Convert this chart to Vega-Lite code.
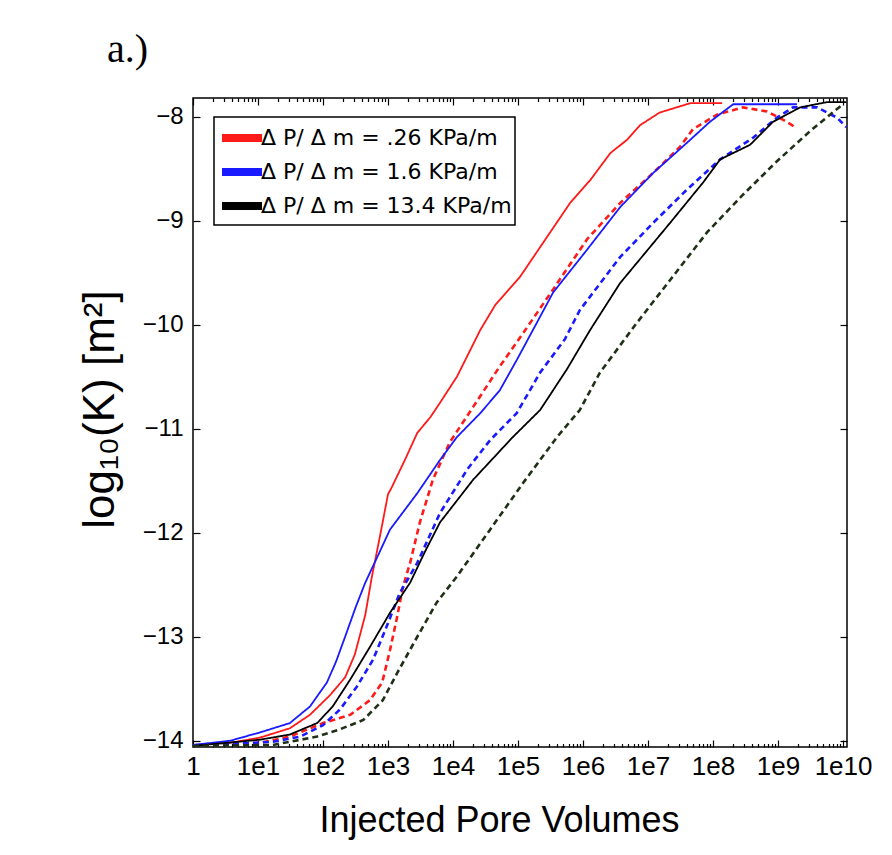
{
  "$schema": "https://vega.github.io/schema/vega-lite/v6.json",
  "width": 654,
  "height": 649,
  "autosize": {"type": "none"},
  "padding": {"left": 193, "top": 98, "right": 45, "bottom": 108},
  "background": "white",
  "title": {"text": "a.)", "anchor": "start", "frame": "group", "font": "Liberation Serif", "fontSize": 40, "fontWeight": "normal", "dx": -86, "dy": 35, "offset": 30, "baseline": "alphabetic", "color": "black"},
  "config": {
    "view": {"stroke": "black", "strokeWidth": 1.5},
    "axis": {"grid": false, "domain": false, "tickColor": "black", "tickWidth": 1.2, "labelColor": "black", "titleColor": "black", "titleFontWeight": "normal"},
    "legend": {"strokeWidth": 1.5}
  },
  "data": {"values": [
    {"g": "Δ P/ Δ m = .26 KPa/m", "t": "solid", "x": 1, "y": -14.04},
    {"g": "Δ P/ Δ m = .26 KPa/m", "t": "solid", "x": 3.72, "y": -14.02},
    {"g": "Δ P/ Δ m = .26 KPa/m", "t": "solid", "x": 10.7, "y": -13.97},
    {"g": "Δ P/ Δ m = .26 KPa/m", "t": "solid", "x": 30.9, "y": -13.88},
    {"g": "Δ P/ Δ m = .26 KPa/m", "t": "solid", "x": 63.1, "y": -13.75},
    {"g": "Δ P/ Δ m = .26 KPa/m", "t": "solid", "x": 129, "y": -13.56},
    {"g": "Δ P/ Δ m = .26 KPa/m", "t": "solid", "x": 219, "y": -13.39},
    {"g": "Δ P/ Δ m = .26 KPa/m", "t": "solid", "x": 309, "y": -13.17},
    {"g": "Δ P/ Δ m = .26 KPa/m", "t": "solid", "x": 447, "y": -12.79},
    {"g": "Δ P/ Δ m = .26 KPa/m", "t": "solid", "x": 562, "y": -12.43},
    {"g": "Δ P/ Δ m = .26 KPa/m", "t": "solid", "x": 759, "y": -12.02},
    {"g": "Δ P/ Δ m = .26 KPa/m", "t": "solid", "x": 1000, "y": -11.63},
    {"g": "Δ P/ Δ m = .26 KPa/m", "t": "solid", "x": 1148, "y": -11.56},
    {"g": "Δ P/ Δ m = .26 KPa/m", "t": "solid", "x": 1820, "y": -11.30},
    {"g": "Δ P/ Δ m = .26 KPa/m", "t": "solid", "x": 2818, "y": -11.04},
    {"g": "Δ P/ Δ m = .26 KPa/m", "t": "solid", "x": 4467, "y": -10.89},
    {"g": "Δ P/ Δ m = .26 KPa/m", "t": "solid", "x": 6310, "y": -10.75},
    {"g": "Δ P/ Δ m = .26 KPa/m", "t": "solid", "x": 11480, "y": -10.50},
    {"g": "Δ P/ Δ m = .26 KPa/m", "t": "solid", "x": 26300, "y": -10.05},
    {"g": "Δ P/ Δ m = .26 KPa/m", "t": "solid", "x": 44670, "y": -9.81},
    {"g": "Δ P/ Δ m = .26 KPa/m", "t": "solid", "x": 107200, "y": -9.54},
    {"g": "Δ P/ Δ m = .26 KPa/m", "t": "solid", "x": 263000, "y": -9.18},
    {"g": "Δ P/ Δ m = .26 KPa/m", "t": "solid", "x": 631000, "y": -8.83},
    {"g": "Δ P/ Δ m = .26 KPa/m", "t": "solid", "x": 1290000, "y": -8.61},
    {"g": "Δ P/ Δ m = .26 KPa/m", "t": "solid", "x": 2630000, "y": -8.35},
    {"g": "Δ P/ Δ m = .26 KPa/m", "t": "solid", "x": 4790000, "y": -8.22},
    {"g": "Δ P/ Δ m = .26 KPa/m", "t": "solid", "x": 7590000, "y": -8.08},
    {"g": "Δ P/ Δ m = .26 KPa/m", "t": "solid", "x": 15100000, "y": -7.96},
    {"g": "Δ P/ Δ m = .26 KPa/m", "t": "solid", "x": 44700000, "y": -7.87},
    {"g": "Δ P/ Δ m = .26 KPa/m", "t": "solid", "x": 138000000, "y": -7.87},

    {"g": "Δ P/ Δ m = .26 KPa/m", "t": "dashed", "x": 1, "y": -14.05},
    {"g": "Δ P/ Δ m = .26 KPa/m", "t": "dashed", "x": 10.7, "y": -14.02},
    {"g": "Δ P/ Δ m = .26 KPa/m", "t": "dashed", "x": 30.9, "y": -13.96},
    {"g": "Δ P/ Δ m = .26 KPa/m", "t": "dashed", "x": 100, "y": -13.83},
    {"g": "Δ P/ Δ m = .26 KPa/m", "t": "dashed", "x": 263, "y": -13.75},
    {"g": "Δ P/ Δ m = .26 KPa/m", "t": "dashed", "x": 525, "y": -13.61},
    {"g": "Δ P/ Δ m = .26 KPa/m", "t": "dashed", "x": 813, "y": -13.44},
    {"g": "Δ P/ Δ m = .26 KPa/m", "t": "dashed", "x": 1072, "y": -13.13},
    {"g": "Δ P/ Δ m = .26 KPa/m", "t": "dashed", "x": 1380, "y": -12.81},
    {"g": "Δ P/ Δ m = .26 KPa/m", "t": "dashed", "x": 1698, "y": -12.52},
    {"g": "Δ P/ Δ m = .26 KPa/m", "t": "dashed", "x": 2188, "y": -12.29},
    {"g": "Δ P/ Δ m = .26 KPa/m", "t": "dashed", "x": 3090, "y": -11.90},
    {"g": "Δ P/ Δ m = .26 KPa/m", "t": "dashed", "x": 4898, "y": -11.49},
    {"g": "Δ P/ Δ m = .26 KPa/m", "t": "dashed", "x": 8913, "y": -11.13},
    {"g": "Δ P/ Δ m = .26 KPa/m", "t": "dashed", "x": 20420, "y": -10.79},
    {"g": "Δ P/ Δ m = .26 KPa/m", "t": "dashed", "x": 52480, "y": -10.40},
    {"g": "Δ P/ Δ m = .26 KPa/m", "t": "dashed", "x": 120200, "y": -10.08},
    {"g": "Δ P/ Δ m = .26 KPa/m", "t": "dashed", "x": 346700, "y": -9.66},
    {"g": "Δ P/ Δ m = .26 KPa/m", "t": "dashed", "x": 1148000, "y": -9.18},
    {"g": "Δ P/ Δ m = .26 KPa/m", "t": "dashed", "x": 3715000, "y": -8.83},
    {"g": "Δ P/ Δ m = .26 KPa/m", "t": "dashed", "x": 12020000, "y": -8.54},
    {"g": "Δ P/ Δ m = .26 KPa/m", "t": "dashed", "x": 30900000, "y": -8.29},
    {"g": "Δ P/ Δ m = .26 KPa/m", "t": "dashed", "x": 49000000, "y": -8.12},
    {"g": "Δ P/ Δ m = .26 KPa/m", "t": "dashed", "x": 114800000, "y": -7.98},
    {"g": "Δ P/ Δ m = .26 KPa/m", "t": "dashed", "x": 288400000, "y": -7.91},
    {"g": "Δ P/ Δ m = .26 KPa/m", "t": "dashed", "x": 676000000, "y": -7.95},
    {"g": "Δ P/ Δ m = .26 KPa/m", "t": "dashed", "x": 1202000000, "y": -8.03},
    {"g": "Δ P/ Δ m = .26 KPa/m", "t": "dashed", "x": 1950000000, "y": -8.11},

    {"g": "Δ P/ Δ m = 1.6 KPa/m", "t": "solid", "x": 1, "y": -14.04},
    {"g": "Δ P/ Δ m = 1.6 KPa/m", "t": "solid", "x": 3.72, "y": -14.0},
    {"g": "Δ P/ Δ m = 1.6 KPa/m", "t": "solid", "x": 10.7, "y": -13.92},
    {"g": "Δ P/ Δ m = 1.6 KPa/m", "t": "solid", "x": 30.9, "y": -13.83},
    {"g": "Δ P/ Δ m = 1.6 KPa/m", "t": "solid", "x": 63.1, "y": -13.67},
    {"g": "Δ P/ Δ m = 1.6 KPa/m", "t": "solid", "x": 114.8, "y": -13.44},
    {"g": "Δ P/ Δ m = 1.6 KPa/m", "t": "solid", "x": 158.5, "y": -13.24},
    {"g": "Δ P/ Δ m = 1.6 KPa/m", "t": "solid", "x": 218.8, "y": -13.0},
    {"g": "Δ P/ Δ m = 1.6 KPa/m", "t": "solid", "x": 316.2, "y": -12.72},
    {"g": "Δ P/ Δ m = 1.6 KPa/m", "t": "solid", "x": 446.7, "y": -12.48},
    {"g": "Δ P/ Δ m = 1.6 KPa/m", "t": "solid", "x": 676, "y": -12.24},
    {"g": "Δ P/ Δ m = 1.6 KPa/m", "t": "solid", "x": 1072, "y": -11.97},
    {"g": "Δ P/ Δ m = 1.6 KPa/m", "t": "solid", "x": 2818, "y": -11.62},
    {"g": "Δ P/ Δ m = 1.6 KPa/m", "t": "solid", "x": 6310, "y": -11.30},
    {"g": "Δ P/ Δ m = 1.6 KPa/m", "t": "solid", "x": 11480, "y": -11.08},
    {"g": "Δ P/ Δ m = 1.6 KPa/m", "t": "solid", "x": 26300, "y": -10.85},
    {"g": "Δ P/ Δ m = 1.6 KPa/m", "t": "solid", "x": 52480, "y": -10.63},
    {"g": "Δ P/ Δ m = 1.6 KPa/m", "t": "solid", "x": 95500, "y": -10.34},
    {"g": "Δ P/ Δ m = 1.6 KPa/m", "t": "solid", "x": 169800, "y": -10.05},
    {"g": "Δ P/ Δ m = 1.6 KPa/m", "t": "solid", "x": 346700, "y": -9.69},
    {"g": "Δ P/ Δ m = 1.6 KPa/m", "t": "solid", "x": 1148000, "y": -9.28},
    {"g": "Δ P/ Δ m = 1.6 KPa/m", "t": "solid", "x": 3715000, "y": -8.87},
    {"g": "Δ P/ Δ m = 1.6 KPa/m", "t": "solid", "x": 12020000, "y": -8.54},
    {"g": "Δ P/ Δ m = 1.6 KPa/m", "t": "solid", "x": 39800000, "y": -8.25},
    {"g": "Δ P/ Δ m = 1.6 KPa/m", "t": "solid", "x": 89100000, "y": -8.05},
    {"g": "Δ P/ Δ m = 1.6 KPa/m", "t": "solid", "x": 204000000, "y": -7.88},
    {"g": "Δ P/ Δ m = 1.6 KPa/m", "t": "solid", "x": 1950000000, "y": -7.88},

    {"g": "Δ P/ Δ m = 1.6 KPa/m", "t": "dashed", "x": 1, "y": -14.05},
    {"g": "Δ P/ Δ m = 1.6 KPa/m", "t": "dashed", "x": 17, "y": -14.01},
    {"g": "Δ P/ Δ m = 1.6 KPa/m", "t": "dashed", "x": 44.7, "y": -13.96},
    {"g": "Δ P/ Δ m = 1.6 KPa/m", "t": "dashed", "x": 100, "y": -13.85},
    {"g": "Δ P/ Δ m = 1.6 KPa/m", "t": "dashed", "x": 182, "y": -13.70},
    {"g": "Δ P/ Δ m = 1.6 KPa/m", "t": "dashed", "x": 331, "y": -13.48},
    {"g": "Δ P/ Δ m = 1.6 KPa/m", "t": "dashed", "x": 589, "y": -13.22},
    {"g": "Δ P/ Δ m = 1.6 KPa/m", "t": "dashed", "x": 955, "y": -12.90},
    {"g": "Δ P/ Δ m = 1.6 KPa/m", "t": "dashed", "x": 1514, "y": -12.58},
    {"g": "Δ P/ Δ m = 1.6 KPa/m", "t": "dashed", "x": 2818, "y": -12.29},
    {"g": "Δ P/ Δ m = 1.6 KPa/m", "t": "dashed", "x": 6310, "y": -11.81},
    {"g": "Δ P/ Δ m = 1.6 KPa/m", "t": "dashed", "x": 16600, "y": -11.39},
    {"g": "Δ P/ Δ m = 1.6 KPa/m", "t": "dashed", "x": 37150, "y": -11.11},
    {"g": "Δ P/ Δ m = 1.6 KPa/m", "t": "dashed", "x": 95500, "y": -10.85},
    {"g": "Δ P/ Δ m = 1.6 KPa/m", "t": "dashed", "x": 218800, "y": -10.46},
    {"g": "Δ P/ Δ m = 1.6 KPa/m", "t": "dashed", "x": 524800, "y": -10.14},
    {"g": "Δ P/ Δ m = 1.6 KPa/m", "t": "dashed", "x": 891000, "y": -9.86},
    {"g": "Δ P/ Δ m = 1.6 KPa/m", "t": "dashed", "x": 3715000, "y": -9.35},
    {"g": "Δ P/ Δ m = 1.6 KPa/m", "t": "dashed", "x": 12020000, "y": -9.02},
    {"g": "Δ P/ Δ m = 1.6 KPa/m", "t": "dashed", "x": 39800000, "y": -8.70},
    {"g": "Δ P/ Δ m = 1.6 KPa/m", "t": "dashed", "x": 128800000, "y": -8.41},
    {"g": "Δ P/ Δ m = 1.6 KPa/m", "t": "dashed", "x": 417000000, "y": -8.20},
    {"g": "Δ P/ Δ m = 1.6 KPa/m", "t": "dashed", "x": 955000000, "y": -8.01},
    {"g": "Δ P/ Δ m = 1.6 KPa/m", "t": "dashed", "x": 1700000000, "y": -7.91},
    {"g": "Δ P/ Δ m = 1.6 KPa/m", "t": "dashed", "x": 3980000000, "y": -7.91},
    {"g": "Δ P/ Δ m = 1.6 KPa/m", "t": "dashed", "x": 8130000000, "y": -8.01},
    {"g": "Δ P/ Δ m = 1.6 KPa/m", "t": "dashed", "x": 11200000000, "y": -8.10},

    {"g": "Δ P/ Δ m = 13.4 KPa/m", "t": "solid", "x": 1, "y": -14.05},
    {"g": "Δ P/ Δ m = 13.4 KPa/m", "t": "solid", "x": 10.7, "y": -13.99},
    {"g": "Δ P/ Δ m = 13.4 KPa/m", "t": "solid", "x": 30.9, "y": -13.94},
    {"g": "Δ P/ Δ m = 13.4 KPa/m", "t": "solid", "x": 81.3, "y": -13.83},
    {"g": "Δ P/ Δ m = 13.4 KPa/m", "t": "solid", "x": 141, "y": -13.67},
    {"g": "Δ P/ Δ m = 13.4 KPa/m", "t": "solid", "x": 263, "y": -13.41},
    {"g": "Δ P/ Δ m = 13.4 KPa/m", "t": "solid", "x": 525, "y": -13.10},
    {"g": "Δ P/ Δ m = 13.4 KPa/m", "t": "solid", "x": 1072, "y": -12.77},
    {"g": "Δ P/ Δ m = 13.4 KPa/m", "t": "solid", "x": 2188, "y": -12.48},
    {"g": "Δ P/ Δ m = 13.4 KPa/m", "t": "solid", "x": 3715, "y": -12.18},
    {"g": "Δ P/ Δ m = 13.4 KPa/m", "t": "solid", "x": 6310, "y": -11.90},
    {"g": "Δ P/ Δ m = 13.4 KPa/m", "t": "solid", "x": 20420, "y": -11.49},
    {"g": "Δ P/ Δ m = 13.4 KPa/m", "t": "solid", "x": 83180, "y": -11.08},
    {"g": "Δ P/ Δ m = 13.4 KPa/m", "t": "solid", "x": 218800, "y": -10.82},
    {"g": "Δ P/ Δ m = 13.4 KPa/m", "t": "solid", "x": 562300, "y": -10.43},
    {"g": "Δ P/ Δ m = 13.4 KPa/m", "t": "solid", "x": 1288000, "y": -10.05},
    {"g": "Δ P/ Δ m = 13.4 KPa/m", "t": "solid", "x": 3715000, "y": -9.60},
    {"g": "Δ P/ Δ m = 13.4 KPa/m", "t": "solid", "x": 21880000, "y": -9.02},
    {"g": "Δ P/ Δ m = 13.4 KPa/m", "t": "solid", "x": 70800000, "y": -8.63},
    {"g": "Δ P/ Δ m = 13.4 KPa/m", "t": "solid", "x": 128800000, "y": -8.41},
    {"g": "Δ P/ Δ m = 13.4 KPa/m", "t": "solid", "x": 371500000, "y": -8.27},
    {"g": "Δ P/ Δ m = 13.4 KPa/m", "t": "solid", "x": 832000000, "y": -8.05},
    {"g": "Δ P/ Δ m = 13.4 KPa/m", "t": "solid", "x": 2188000000, "y": -7.91},
    {"g": "Δ P/ Δ m = 13.4 KPa/m", "t": "solid", "x": 5620000000, "y": -7.86},
    {"g": "Δ P/ Δ m = 13.4 KPa/m", "t": "solid", "x": 11200000000, "y": -7.86},

    {"g": "Δ P/ Δ m = 13.4 KPa/m", "t": "dashed", "x": 1, "y": -14.05},
    {"g": "Δ P/ Δ m = 13.4 KPa/m", "t": "dashed", "x": 17, "y": -14.04},
    {"g": "Δ P/ Δ m = 13.4 KPa/m", "t": "dashed", "x": 81.3, "y": -13.96},
    {"g": "Δ P/ Δ m = 13.4 KPa/m", "t": "dashed", "x": 182, "y": -13.89},
    {"g": "Δ P/ Δ m = 13.4 KPa/m", "t": "dashed", "x": 417, "y": -13.80},
    {"g": "Δ P/ Δ m = 13.4 KPa/m", "t": "dashed", "x": 832, "y": -13.61},
    {"g": "Δ P/ Δ m = 13.4 KPa/m", "t": "dashed", "x": 1380, "y": -13.35},
    {"g": "Δ P/ Δ m = 13.4 KPa/m", "t": "dashed", "x": 2818, "y": -13.0},
    {"g": "Δ P/ Δ m = 13.4 KPa/m", "t": "dashed", "x": 5623, "y": -12.67},
    {"g": "Δ P/ Δ m = 13.4 KPa/m", "t": "dashed", "x": 11480, "y": -12.42},
    {"g": "Δ P/ Δ m = 13.4 KPa/m", "t": "dashed", "x": 37150, "y": -11.97},
    {"g": "Δ P/ Δ m = 13.4 KPa/m", "t": "dashed", "x": 120200, "y": -11.52},
    {"g": "Δ P/ Δ m = 13.4 KPa/m", "t": "dashed", "x": 398100, "y": -11.08},
    {"g": "Δ P/ Δ m = 13.4 KPa/m", "t": "dashed", "x": 891300, "y": -10.82},
    {"g": "Δ P/ Δ m = 13.4 KPa/m", "t": "dashed", "x": 1820000, "y": -10.46},
    {"g": "Δ P/ Δ m = 13.4 KPa/m", "t": "dashed", "x": 6760000, "y": -9.98},
    {"g": "Δ P/ Δ m = 13.4 KPa/m", "t": "dashed", "x": 21880000, "y": -9.57},
    {"g": "Δ P/ Δ m = 13.4 KPa/m", "t": "dashed", "x": 81300000, "y": -9.11},
    {"g": "Δ P/ Δ m = 13.4 KPa/m", "t": "dashed", "x": 288400000, "y": -8.75},
    {"g": "Δ P/ Δ m = 13.4 KPa/m", "t": "dashed", "x": 955000000, "y": -8.43},
    {"g": "Δ P/ Δ m = 13.4 KPa/m", "t": "dashed", "x": 3090000000, "y": -8.14},
    {"g": "Δ P/ Δ m = 13.4 KPa/m", "t": "dashed", "x": 6310000000, "y": -7.98},
    {"g": "Δ P/ Δ m = 13.4 KPa/m", "t": "dashed", "x": 10000000000, "y": -7.88}
  ]},
  "resolve": {"axis": {"x": "independent", "y": "independent"}},
  "layer": [
    {
      "mark": {"type": "line", "clip": true},
      "encoding": {
        "x": {"field": "x", "type": "quantitative",
          "scale": {"type": "log", "domain": [1, 11500000000], "nice": false},
          "axis": {"orient": "bottom",
            "values": [1,2,3,4,5,6,7,8,9,10,20,30,40,50,60,70,80,90,100,200,300,400,500,600,700,800,900,1000,2000,3000,4000,5000,6000,7000,8000,9000,1e4,2e4,3e4,4e4,5e4,6e4,7e4,8e4,9e4,1e5,2e5,3e5,4e5,5e5,6e5,7e5,8e5,9e5,1e6,2e6,3e6,4e6,5e6,6e6,7e6,8e6,9e6,1e7,2e7,3e7,4e7,5e7,6e7,7e7,8e7,9e7,1e8,2e8,3e8,4e8,5e8,6e8,7e8,8e8,9e8,1e9,2e9,3e9,4e9,5e9,6e9,7e9,8e9,9e9,1e10],
            "tickSize": {"condition": {"test": "abs(log(datum.value)/LN10 - round(log(datum.value)/LN10)) < 0.001", "value": -7}, "value": -3.5},
            "labelExpr": "datum.value < 1.5 ? '1' : (abs(log(datum.value)/LN10 - round(log(datum.value)/LN10)) < 0.001 ? '1e' + round(log(datum.value)/LN10) : '')",
            "labelFont": "Liberation Sans Narrow, Liberation Sans, Arial", "labelFontSize": 26, "labelPadding": 13,
            "labelFlush": false, "labelOverlap": false,
            "title": "Injected Pore Volumes", "titleFont": "Liberation Sans", "titleFontSize": 36,
            "titleX": 306, "titleY": 73, "titleBaseline": "middle", "titleAlign": "center"}},
        "y": {"field": "y", "type": "quantitative",
          "scale": {"domain": [-14.06, -7.82], "nice": false, "zero": false},
          "axis": {"orient": "left", "values": [-14,-13,-12,-11,-10,-9,-8], "tickSize": -7, "labelPadding": 17,
            "labelFont": "Liberation Sans Narrow, Liberation Sans, Arial", "labelFontSize": 24,
            "title": "log₁₀(K) [m²]", "titleFont": "Liberation Sans", "titleFontSize": 44,
            "titleAngle": -90, "titleX": -93, "titleY": 311, "titleBaseline": "middle", "titleAlign": "center"}},
        "color": {
          "condition": {"test": "datum.t === 'dashed' && datum.g === 'Δ P/ Δ m = 13.4 KPa/m'", "value": "#1f3016"},
          "field": "g", "type": "nominal",
          "scale": {"domain": ["Δ P/ Δ m = .26 KPa/m", "Δ P/ Δ m = 1.6 KPa/m", "Δ P/ Δ m = 13.4 KPa/m"], "range": ["#ff1a1a", "#1a1aff", "#000000"]},
          "legend": {"orient": "none", "legendX": 21, "legendY": 19, "title": null,
            "symbolType": "M-1.43,0L1.43,0", "symbolSize": 784, "symbolStrokeWidth": 8, "symbolDash": [1, 0], "symbolOffset": 7,
            "labelFont": "DejaVu Sans", "labelFontSize": 22, "labelColor": "black", "labelOffset": 1, "labelLimit": 400,
            "labelExpr": "datum.label + '\u00a0\u00a0\u00a0\u00a0\u00a0\u00a0'",
            "padding": 3, "rowPadding": 0, "fillColor": "white", "strokeColor": "black"}},
        "detail": {"field": "t", "type": "nominal"},
        "strokeDash": {"field": "t", "type": "nominal", "scale": {"domain": ["solid", "dashed"], "range": [[1, 0], [6, 4]]}, "legend": null},
        "strokeWidth": {"field": "t", "type": "nominal", "scale": {"domain": ["solid", "dashed"], "range": [1.8, 2.6]}, "legend": null}
      }
    },
    {
      "mark": {"type": "point", "opacity": 0},
      "encoding": {
        "x": {"field": "x", "type": "quantitative",
          "axis": {"orient": "top",
            "values": [1,2,3,4,5,6,7,8,9,10,20,30,40,50,60,70,80,90,100,200,300,400,500,600,700,800,900,1000,2000,3000,4000,5000,6000,7000,8000,9000,1e4,2e4,3e4,4e4,5e4,6e4,7e4,8e4,9e4,1e5,2e5,3e5,4e5,5e5,6e5,7e5,8e5,9e5,1e6,2e6,3e6,4e6,5e6,6e6,7e6,8e6,9e6,1e7,2e7,3e7,4e7,5e7,6e7,7e7,8e7,9e7,1e8,2e8,3e8,4e8,5e8,6e8,7e8,8e8,9e8,1e9,2e9,3e9,4e9,5e9,6e9,7e9,8e9,9e9,1e10],
            "tickSize": {"condition": {"test": "abs(log(datum.value)/LN10 - round(log(datum.value)/LN10)) < 0.001", "value": -7}, "value": -3.5},
            "labels": false, "title": null}},
        "y": {"field": "y", "type": "quantitative",
          "axis": {"orient": "right", "values": [-14,-13,-12,-11,-10,-9,-8], "tickSize": -7, "labels": false, "title": null}}
      }
    }
  ]
}
